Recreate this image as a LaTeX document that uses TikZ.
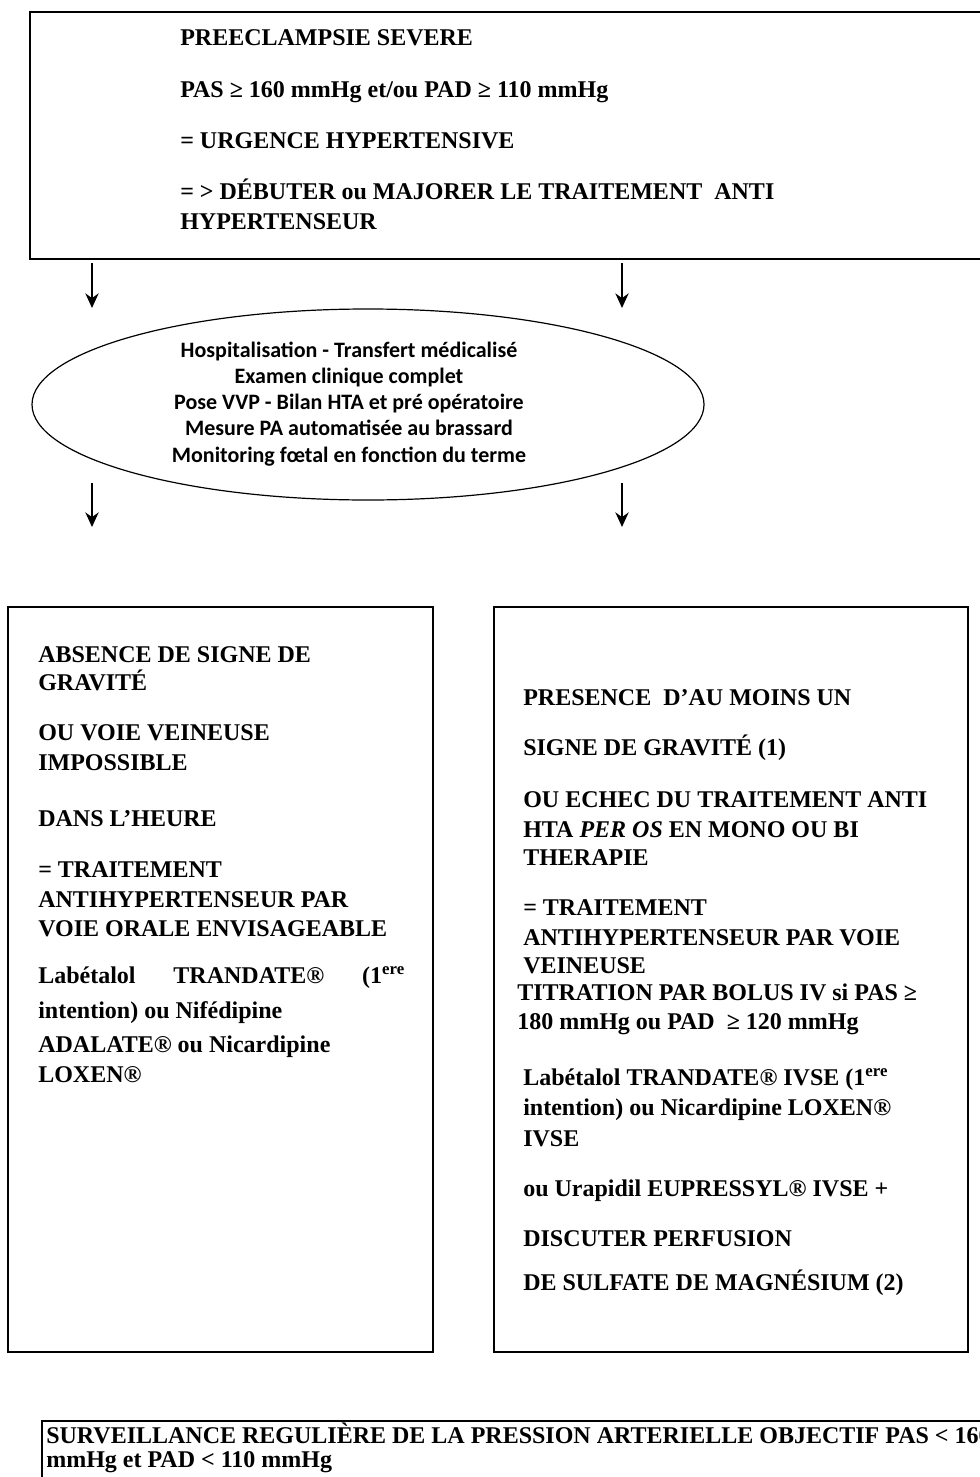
\documentclass[tikz,border=0pt]{standalone}
\usepackage{fontspec}
\setmainfont{Liberation Serif}
\newfontfamily\calib{Carlito}
\usetikzlibrary{arrows.meta,shapes.geometric}
\tikzset{
  box/.style={draw, line width=1.5pt, inner sep=0pt, anchor=north west},
  txt/.style={anchor=base west, inner sep=0pt, font=\bfseries\fontsize{18}{21.5}\selectfont},
  etxt/.style={anchor=base, inner sep=0pt, font=\calib\bfseries\fontsize{16.5}{19.5}\selectfont},
  arr/.style={line width=1pt, -{Stealth[length=11pt,width=10pt]}},
}
\begin{document}
\begin{tikzpicture}[x=0.75pt,y=-0.75pt]
\useasboundingbox (0,0) rectangle (980,1477);
\clip (0,0) rectangle (980,1477);
\fill[white] (0,0) rectangle (980,1477);

% boxes
\node[box, minimum width=728.25pt, minimum height=185.25pt] (topbox) at (29,11) {};
\node[draw, ellipse, line width=0.9pt, inner sep=0pt, minimum width=504pt, minimum height=143.25pt] (ell) at (368,404.5) {};
\node[box, minimum width=318.75pt, minimum height=558.75pt] (leftbox) at (7,606) {};
\node[box, minimum width=355.5pt, minimum height=558.75pt] (rightbox) at (493,606) {};
\node[box, minimum width=719.25pt, minimum height=75.75pt] (botbox) at (41,1420) {};

% arrows
\coordinate (a1s) at (92,263); \coordinate (a1e) at (92,308);
\coordinate (a2s) at (622,263); \coordinate (a2e) at (622,308);
\coordinate (a3s) at (92,483); \coordinate (a3e) at (92,527);
\coordinate (a4s) at (622,483); \coordinate (a4e) at (622,527);
\draw[arr] (a1s) -- (a1e);
\draw[arr] (a2s) -- (a2e);
\draw[arr] (a3s) -- (a3e);
\draw[arr] (a4s) -- (a4e);

% top box text
\node[txt] (t1) at (180,46) {PREECLAMPSIE SEVERE};
\node[txt] (t2) at (180,98) {PAS ≥ 160 mmHg et/ou PAD ≥ 110 mmHg};
\node[txt] (t3) at (180,148) {= URGENCE HYPERTENSIVE};
\node[txt] (t4) at (180,199) {= > DÉBUTER ou MAJORER LE TRAITEMENT~ ANTI};
\node[txt] (t5) at (180,229) {HYPERTENSEUR};

% ellipse text
\node[etxt] (e1) at (349,357) {Hospitalisation - Transfert médicalisé};
\node[etxt] (e2) at (349,383) {Examen clinique complet};
\node[etxt] (e3) at (349,409) {Pose VVP - Bilan HTA et pré opératoire};
\node[etxt] (e4) at (349,435) {Mesure PA automatisée au brassard};
\node[etxt] (e5) at (349,462) {Monitoring fœtal en fonction du terme};

% left box text
\node[txt] (l1) at (38,662) {ABSENCE DE SIGNE DE};
\node[txt] (l2) at (38,690) {GRAVITÉ};
\node[txt] (l3) at (38,740) {OU VOIE VEINEUSE};
\node[txt] (l4) at (38,770) {IMPOSSIBLE};
\node[txt] (l5) at (38,826) {DANS L’HEURE};
\node[txt] (l6) at (38,877) {= TRAITEMENT};
\node[txt] (l7) at (38,907) {ANTIHYPERTENSEUR PAR};
\node[txt] (l8) at (38,936) {VOIE ORALE ENVISAGEABLE};
\node[txt] (l9) at (38,983) {\makebox[275pt][s]{Labétalol TRANDATE® (1\textsuperscript{ere}}};
\node[txt] (l10) at (38,1018) {intention) ou Nifédipine};
\node[txt] (l11) at (38,1052) {ADALATE® ou Nicardipine};
\node[txt] (l12) at (38,1082) {LOXEN®};

% right box text
\node[txt] (r1) at (523,705) {PRESENCE~ D’AU MOINS UN};
\node[txt] (r2) at (523,755) {SIGNE DE GRAVITÉ (1)};
\node[txt] (r3) at (523,807) {OU ECHEC DU TRAITEMENT ANTI};
\node[txt] (r4) at (523,837) {HTA \textit{PER OS} EN MONO OU BI};
\node[txt] (r5) at (523,865) {THERAPIE};
\node[txt] (r6) at (523,915) {= TRAITEMENT};
\node[txt] (r7) at (523,945) {ANTIHYPERTENSEUR PAR VOIE};
\node[txt] (r8) at (523,973) {VEINEUSE};
\node[txt] (r9) at (517,1000) {TITRATION PAR BOLUS IV si PAS ≥};
\node[txt] (r10) at (517,1029) {180 mmHg ou PAD~ ≥ 120 mmHg};
\node[txt] (r11) at (523,1085) {Labétalol TRANDATE® IVSE (1\textsuperscript{ere}};
\node[txt] (r12) at (523,1115) {intention) ou Nicardipine LOXEN®};
\node[txt] (r13) at (523,1146) {IVSE};
\node[txt] (r14) at (523,1196) {ou Urapidil EUPRESSYL® IVSE +};
\node[txt] (r15) at (523,1246) {DISCUTER PERFUSION};
\node[txt] (r16) at (523,1290) {DE SULFATE DE MAGNÉSIUM (2)};

% bottom box text
\node[txt] (b1) at (46,1443) {SURVEILLANCE REGULIÈRE DE LA PRESSION ARTERIELLE OBJECTIF PAS < 160};
\node[txt] (b2) at (46,1467) {mmHg et PAD < 110 mmHg};
\end{tikzpicture}
\end{document}
